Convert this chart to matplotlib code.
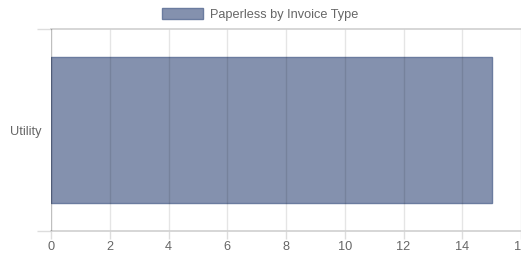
import matplotlib
matplotlib.use("Agg")
import matplotlib.pyplot as plt
from matplotlib.patches import Patch

categories = ["Utility"]
values = [15]
series_label = "Paperless by Invoice Type"
x_ticks = [0, 2, 4, 6, 8, 10, 12, 14, 16]

plt.rcParams['font.family'] = ['Liberation Sans', 'DejaVu Sans']
txt = '#666666'
fs = 9.2

fig = plt.figure(figsize=(5.21, 2.57), dpi=100)
W, H = 521, 257
ax = fig.add_axes([51 / W, (H - 231) / H, (521 - 51) / W, (231 - 29) / H])

fill = '#8491ae'
edge = '#6b7c9f'
ax.barh(range(len(categories)), values, height=0.72, color=fill,
        edgecolor=edge, linewidth=1, zorder=2)

ax.set_xlim(0, 16)
ax.set_ylim(-0.5, len(categories) - 0.5)
ax.invert_yaxis()
ax.set_xticks(x_ticks)
ax.set_xticklabels([str(t) for t in x_ticks])
ax.set_yticks(range(len(categories)))
ax.set_yticklabels(categories)
ax.set_yticks([i - 0.5 for i in range(len(categories) + 1)], minor=True)

for s in ax.spines.values():
    s.set_visible(False)

ax.grid(False)
for t in x_ticks[1:]:
    ax.axvline(t, color='black', alpha=0.1, linewidth=1, zorder=3)
for i in range(len(categories) + 1):
    ax.plot([0, 1], [i - 0.5, i - 0.5], color='#d0d0d0', linewidth=1.2,
            zorder=3, clip_on=False, transform=ax.get_yaxis_transform())
ax.axvline(0, color='black', alpha=0.25, linewidth=1, zorder=4)

tick_col = '#dddddd'
ax.tick_params(axis='x', which='major', length=6, width=1, color=tick_col,
               labelsize=fs, labelcolor=txt, pad=1.5)
ax.tick_params(axis='y', which='major', length=0, labelsize=fs,
               labelcolor=txt, pad=7)
ax.tick_params(axis='y', which='minor', length=10, width=1, color=tick_col)

handle = Patch(facecolor=fill, edgecolor=edge, linewidth=1)
fig.legend([handle], [series_label], loc='upper center',
           bbox_to_anchor=(0.5, 1.0), frameon=False, fontsize=fs,
           labelcolor=txt, handlelength=3.2, handleheight=0.95,
           handletextpad=0.55, borderaxespad=0.25)

fig.savefig('out.png', dpi=100)
